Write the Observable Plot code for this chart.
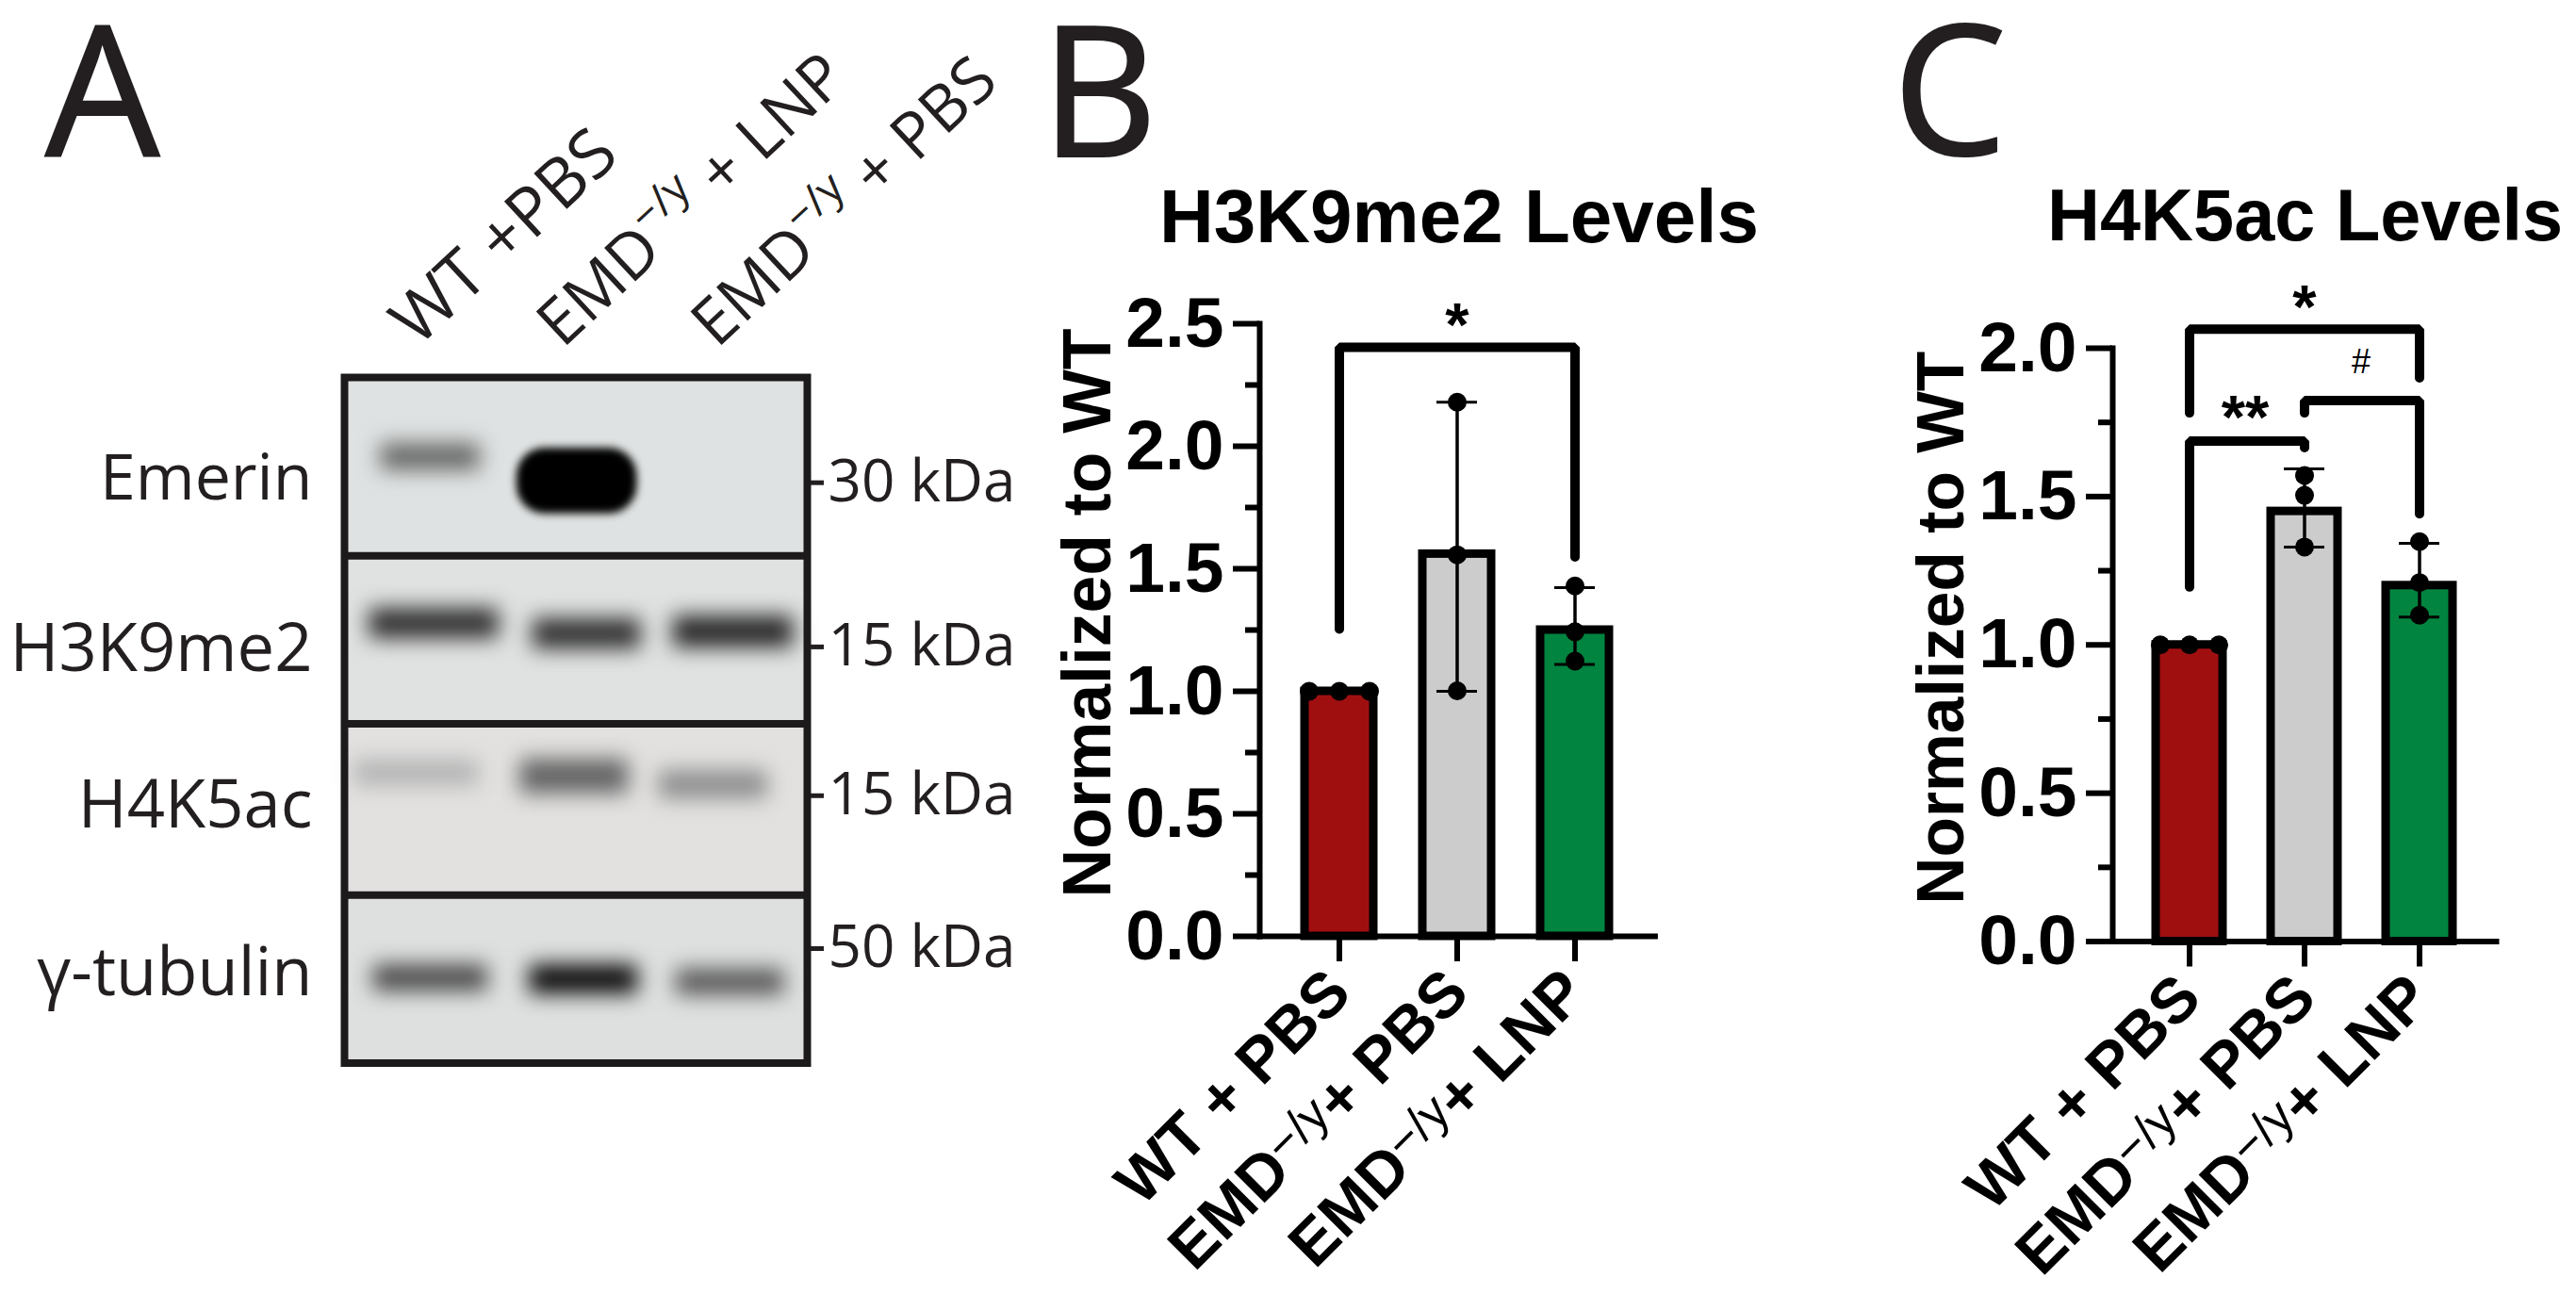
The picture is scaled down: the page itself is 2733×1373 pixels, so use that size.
<!DOCTYPE html>
<html><head><meta charset="utf-8">
<script src="https://cdn.jsdelivr.net/npm/d3@7"></script>
<script src="https://cdn.jsdelivr.net/npm/@observablehq/plot@0.6"></script>
<style>
html,body{margin:0;padding:0;background:#fff}
#page{position:relative;width:2733px;height:1373px;overflow:hidden}
#page svg{position:absolute;top:0;overflow:visible;background:none}
.letter{position:absolute;font-family:"Open Sans";font-size:192px;line-height:1;color:#231f20;-webkit-text-stroke:2px #231f20}
.title{position:absolute;font-family:"Liberation Sans";font-weight:bold;line-height:1;color:#000;white-space:nowrap}
</style></head><body><div id="page"></div>
<script>
// ---- Panel A: western blot read-outs ----
const blotLanes = ["WT +PBS", "EMD−/y + LNP", "EMD−/y + PBS"];
const blotRows = ["Emerin", "H3K9me2", "H4K5ac", "γ-tubulin"];
const rowEdges = [0, 26.0, 50.5, 75.5, 100];
const rowLabelMigration = [14.8, 39.7, 62.5, 87.0];
const rowTones = ["#dfe2e2", "#e0e1e1", "#e2e1e0", "#dedfdf"];
const markerLabels = ["30 kDa", "15 kDa", "15 kDa", "50 kDa"];
const markerMigration = [15.35, 39.3, 61.0, 83.3];
// [row, lane centre, migration %, lane span, thickness %, grey level]
const bands = [
  [0, 0.557, 11.6, 0.64, 3.8, 100],
  [0, 1.507, 15.1, 0.78, 9.6, 0],
  [1, 0.58, 35.9, 0.84, 4.4, 48],
  [1, 1.57, 37.4, 0.70, 4.4, 48],
  [1, 2.52, 37.1, 0.78, 4.6, 40],
  [2, 0.466, 57.7, 0.80, 3.6, 178],
  [2, 1.49, 58.2, 0.70, 5.0, 100],
  [2, 2.39, 59.4, 0.70, 4.0, 140],
  [3, 0.557, 87.6, 0.74, 3.8, 72],
  [3, 1.55, 87.8, 0.70, 4.2, 8],
  [3, 2.50, 88.2, 0.70, 3.8, 88]
];
// ---- Panels B, C: bar charts ----
const groups = ["WT + PBS", "EMD−/y+ PBS", "EMD−/y+ LNP"];
const barColors = ["#a00f10", "#cccccc", "#00843f"];
const h3Means = [1.0, 1.56, 1.25];
const h3Low = [1.0, 1.0, 1.11];
const h3High = [1.0, 2.18, 1.423];
const h3Points = [[1, 1, 1], [1.002, 1.557, 2.18], [1.123, 1.243, 1.43]];
const h3Brackets = [[[0, 1.254], [0, 2.404], [2, 2.404], [2, 1.548]]];
const h3Notes = [["*", 1, 2.49, 0, 65, "bold"]];
const h4Means = [1.0, 1.45, 1.2];
const h4Low = [1.0, 1.33, 1.094];
const h4High = [1.0, 1.593, 1.342];
const h4Points = [[1, 1, 1], [1.33, 1.504, 1.571], [1.10, 1.21, 1.348]];
const h4Brackets = [
  [[0, 1.782], [0, 2.064], [2, 2.064], [2, 1.9]],
  [[1, 1.782], [1, 1.824], [2, 1.824], [2, 1.442]],
  [[0, 1.195], [0, 1.687], [1, 1.687], [1, 1.665]]
];
const h4Notes = [["*", 1, 2.136, 0, 65, "bold"], ["#", 1, 1.952, 60, 36, "normal"], ["**", 1, 1.762, -63, 65, "bold"]];

const page = document.getElementById("page");
function superscripts(svg, size, raise, weight) {
  svg.querySelectorAll("text").forEach(t => {
    const holder = t.querySelector("tspan") || t;
    const s = holder.textContent;
    if (!s.includes("−/y")) return;
    const [a, b] = s.split("−/y");
    holder.textContent = "";
    const NS = "http://www.w3.org/2000/svg";
    const mk = (txt, attrs) => { const e = document.createElementNS(NS, "tspan"); e.textContent = txt; for (const k in attrs) e.setAttribute(k, attrs[k]); holder.appendChild(e); };
    mk(a, {});
    mk("−/y", {"font-size": size + "em", "font-weight": weight, dy: -raise / size + "em"});
    mk(b, {dy: raise + "em"});
  });
}
function place(svg, left) { svg.style.left = left + "px"; page.appendChild(svg); }
function addDiv(cls, txt, left, top, size) { const d = document.createElement("div"); d.className = cls; d.textContent = txt; d.style.left = left + "px"; d.style.top = top + "px"; if (size) d.style.fontSize = size + "px"; page.appendChild(d); }

// ---- Panel A ----
const rowData = blotRows.map((r, i) => ({r, top: rowEdges[i], bottom: rowEdges[i + 1], tone: rowTones[i], at: rowLabelMigration[i]}));
const bandData = bands.map(([row, c, m, span, th, g]) => ({row, x1: c - span / 2, x2: c + span / 2, y1: m - th / 2, y2: m + th / 2, g}));
const bandFill = d => `rgb(${d.g},${d.g},${d.g})`;
const ink = {fontFamily: "Open Sans", fill: "#231f20"};
const plotA = Plot.plot({
  width: 1100, height: 1373,
  marginLeft: 365, marginRight: 244, marginTop: 400, marginBottom: 245.5,
  x: {domain: [0, 3], axis: null},
  y: {domain: [0, 100], reverse: true, axis: null},
  style: {background: "none"},
  marks: [
    Plot.rect(rowData, {x1: 0, x2: 3, y1: "top", y2: "bottom", fill: "tone"}),
    Plot.rect(bandData.filter(d => d.g > 0), {x1: "x1", x2: "x2", y1: "y1", y2: "y2", fill: bandFill, imageFilter: "blur(11px)"}),
    Plot.rect(bandData.filter(d => d.g === 0), {x1: "x1", x2: "x2", y1: "y1", y2: "y2", fill: bandFill, rx: 30, imageFilter: "blur(4px)"}),
    Plot.ruleY(rowEdges.slice(1, -1), {stroke: "#1c1a1a", strokeWidth: 8}),
    Plot.frame({stroke: "#1c1a1a", strokeWidth: 8}),
    Plot.text(rowData.slice(0, 1), {x: 0, y: "at", text: "r", dx: -34, textAnchor: "end", fontSize: 68, ...ink}),
    Plot.text(rowData.slice(1), {x: 0, y: "at", text: "r", dx: -34, textAnchor: "end", fontSize: 70.5, ...ink}),
    Plot.text(blotLanes.slice(0, 1), {x: 0, y: 0, text: d => d, textAnchor: "start", rotate: -43, fontSize: 72, ...ink, dx: 62, dy: -48}),
    Plot.text(blotLanes.slice(1), {x: (d, i) => i + 1, y: 0, text: d => d, textAnchor: "start", rotate: -43, fontSize: 68, ...ink, dx: 53, dy: -46}),
    Plot.ruleY(markerMigration, {x1: 3.024, x2: 3.11, stroke: "#231f20", strokeWidth: 5}),
    Plot.text(markerLabels, {x: 3, y: (d, i) => markerMigration[i], text: d => d, textAnchor: "start", dx: 22, fontSize: 62, ...ink})
  ]
});
superscripts(plotA, 0.68, 0.42, "normal");
place(plotA, 0);

// ---- Panels B, C ----
function barPanel({left, width, mL, mR, mT, mB, yMax, major, minor, means, low, high, points, brackets, notes, wtSpread, pad, capInset, labelSize}) {
  const rows = groups.map((g, i) => ({g, m: means[i], lo: low[i], hi: high[i], color: barColors[i]}));
  const dots = groups.flatMap((g, i) => points[i].map((v, k) => ({g, v, k, first: i === 0})));
  const lines = brackets.flatMap((b, id) => b.map(([i, v]) => ({id, g: groups[i], v})));
  const bold = {fontFamily: "Liberation Sans", fontWeight: "bold"};
  const svg = Plot.plot({
    width, height: 1373, marginLeft: mL, marginRight: mR, marginTop: mT, marginBottom: mB,
    x: {type: "band", domain: groups, paddingInner: 0.42, paddingOuter: pad, label: null},
    y: {domain: [0, yMax], label: null},
    style: {background: "none", color: "#000", overflow: "visible"},
    marks: [
      Plot.barY(rows, {x: "g", y: "m", fill: "color", stroke: "#000", strokeWidth: 9}),
      Plot.ruleX(rows, {x: "g", y1: "lo", y2: "hi", stroke: "#000", strokeWidth: 3.5}),
      Plot.tickY(rows.slice(1), {x: "g", y: "lo", stroke: "#000", strokeWidth: 3, insetLeft: capInset, insetRight: capInset}),
      Plot.tickY(rows.slice(1), {x: "g", y: "hi", stroke: "#000", strokeWidth: 3, insetLeft: capInset, insetRight: capInset}),
      ...[-1, 0, 1].map(s => Plot.dot(dots.filter(d => d.first && d.k === s + 1), {x: "g", y: "v", r: 10, fill: "#000", dx: s * wtSpread})),
      Plot.dot(dots.filter(d => !d.first), {x: "g", y: "v", r: 10, fill: "#000"}),
      Plot.line(lines, {x: "g", y: "v", z: "id", stroke: "#000", strokeWidth: 10, strokeLinecap: "round", strokeLinejoin: "miter", curve: "linear"}),
      ...notes.map(([label, i, v, dx, size, weight]) => Plot.text([label], {x: () => groups[i], y: () => v, text: d => d, dx, fontSize: size, fontFamily: "Liberation Sans", fontWeight: weight, fill: "#000"})),
      Plot.frame({anchor: "left", stroke: "#000", strokeWidth: 6}),
      Plot.frame({anchor: "bottom", stroke: "#000", strokeWidth: 6}),
      Plot.axisY({ticks: major, tickSize: 28, tickPadding: 10, tickFormat: ".1f", strokeWidth: 6, fontSize: 75, ...bold, label: null}),
      Plot.axisY({ticks: minor, tickSize: 15, tickFormat: () => "", strokeWidth: 6, label: null}),
      Plot.axisX({tickSize: 27, tickPadding: 21, strokeWidth: 6, tickRotate: -45, fontSize: 67, ...bold, label: null}),
      Plot.text(["Normalized to WT"], {frameAnchor: "left", text: d => d, textAnchor: "middle", rotate: -90, dx: -181, dy: -18, fontSize: labelSize, ...bold, fill: "#000"})
    ]
  });
  superscripts(svg, 0.78, 0.2, "normal");
  place(svg, left);
}
barPanel({left: 1100, width: 800, mL: 236, mR: 144.6, mT: 343, mB: 380, yMax: 2.5, pad: 0.378, capInset: 15, labelSize: 71.5,
  major: [0, .5, 1, 1.5, 2, 2.5], minor: [.25, .75, 1.25, 1.75, 2.25],
  means: h3Means, low: h3Low, high: h3High, points: h3Points, brackets: h3Brackets, notes: h3Notes, wtSpread: 32});
barPanel({left: 1950, width: 783, mL: 291, mR: 85, mT: 369, mB: 374.5, yMax: 2, pad: 0.371, capInset: 14, labelSize: 69.5,
  major: [0, .5, 1, 1.5, 2], minor: [.25, .75, 1.25, 1.75],
  means: h4Means, low: h4Low, high: h4High, points: h4Points, brackets: h4Brackets, notes: h4Notes, wtSpread: 31});

addDiv("letter", "A", 48, -4);
addDiv("letter", "B", 1104, -4);
addDiv("letter", "C", 2008, -6);
addDiv("title", "H3K9me2 Levels", 1230, 190, 80);
addDiv("title", "H4K5ac Levels", 2172, 190, 77.5);
</script></body></html>
